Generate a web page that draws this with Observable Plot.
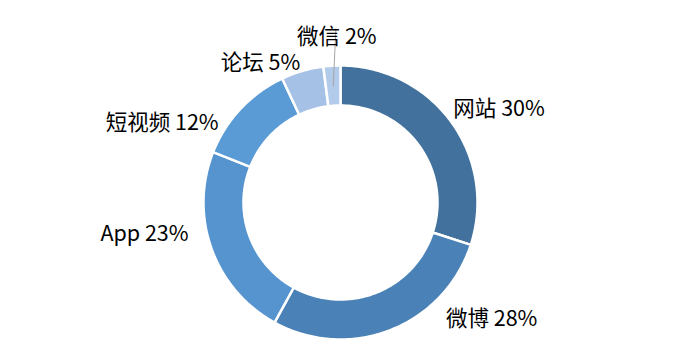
<!DOCTYPE html>
<html>
<head>
<meta charset="utf-8">
<script src="https://cdn.jsdelivr.net/npm/d3@7"></script>
<script src="https://cdn.jsdelivr.net/npm/@observablehq/plot@0.6"></script>
<style>
  html, body { margin: 0; padding: 0; background: #fff; }
  #chart { width: 675px; height: 353px; }
</style>
</head>
<body>
<div id="chart"></div>
<script>
const categories = ["网站", "微博", "App", "短视频", "论坛", "微信"];
const values = [30, 28, 23, 12, 5, 2];
const colors = ["#41719C", "#4A82B7", "#5694CF", "#5B9BD5", "#A5C1E6", "#B3CBEA"];

// label layout (pixel offsets from each slice's outer mid-point)
const labelLayout = {
  "网站": {dx: 2, dy: -13, anchor: "start"},
  "微博": {dx: 55, dy: -11, anchor: "start"},
  "App": {dx: -23, dy: -15, anchor: "end"},
  "短视频": {dx: -22, dy: 14, anchor: "end"},
  "论坛": {dx: -2, dy: -8, anchor: "end"},
  "微信": {dx: 5, dy: -29, anchor: "middle"}
};

const inner = 97 / 137;
const total = d3.sum(values);
let cum = 0;
const slices = categories.map((c, i) => {
  const a0 = cum / total * 2 * Math.PI;
  cum += values[i];
  const a1 = cum / total * 2 * Math.PI;
  return {name: c, value: values[i], a0, a1, mid: (a0 + a1) / 2};
});

// polygon points for each slice (angles clockwise from top)
const pts = [];
for (const s of slices) {
  const n = Math.max(4, Math.ceil((s.a1 - s.a0) / (Math.PI / 180)));
  const ring = [];
  for (let k = 0; k <= n; k++) {
    const a = s.a0 + (s.a1 - s.a0) * k / n;
    ring.push({name: s.name, x: Math.sin(a), y: Math.cos(a)});
  }
  for (let k = n; k >= 0; k--) {
    const a = s.a0 + (s.a1 - s.a0) * k / n;
    ring.push({name: s.name, x: inner * Math.sin(a), y: inner * Math.cos(a)});
  }
  ring.push(ring[0]);
  pts.push(...ring);
}

const labelMarks = slices.map(s => Plot.text([s], {
  x: d => Math.sin(d.mid),
  y: d => Math.cos(d.mid),
  text: d => `${d.name} ${d.value}%`,
  textAnchor: labelLayout[s.name].anchor,
  dx: labelLayout[s.name].dx,
  dy: labelLayout[s.name].dy,
  fill: "#000",
  fontSize: 21.5,
  fontFamily: "'Noto Sans CJK SC', 'Noto Sans', sans-serif"
}));

const wx = slices.find(s => s.name === "微信");
const leader = Plot.link([wx], {
  x1: d => 0.85 * Math.sin(d.mid),
  y1: d => 0.85 * Math.cos(d.mid),
  x2: d => 0.85 * Math.sin(d.mid) + 0.02,
  y2: d => 1.27,
  stroke: "#A6A6A6",
  strokeWidth: 1
});

const chart = Plot.plot({
  width: 675,
  height: 353,
  marginLeft: 203,
  marginRight: 198,
  marginTop: 65,
  marginBottom: 14,
  x: {domain: [-1, 1], axis: null},
  y: {domain: [-1, 1], axis: null},
  color: {domain: categories, range: colors},
  style: {background: "#fff", overflow: "visible"},
  marks: [
    Plot.line(pts, {x: "x", y: "y", z: "name", fill: "name", stroke: "#fff", strokeWidth: 2.5, curve: "linear"}),
    leader,
    ...labelMarks
  ]
});
document.getElementById("chart").appendChild(chart);
</script>
</body>
</html>
